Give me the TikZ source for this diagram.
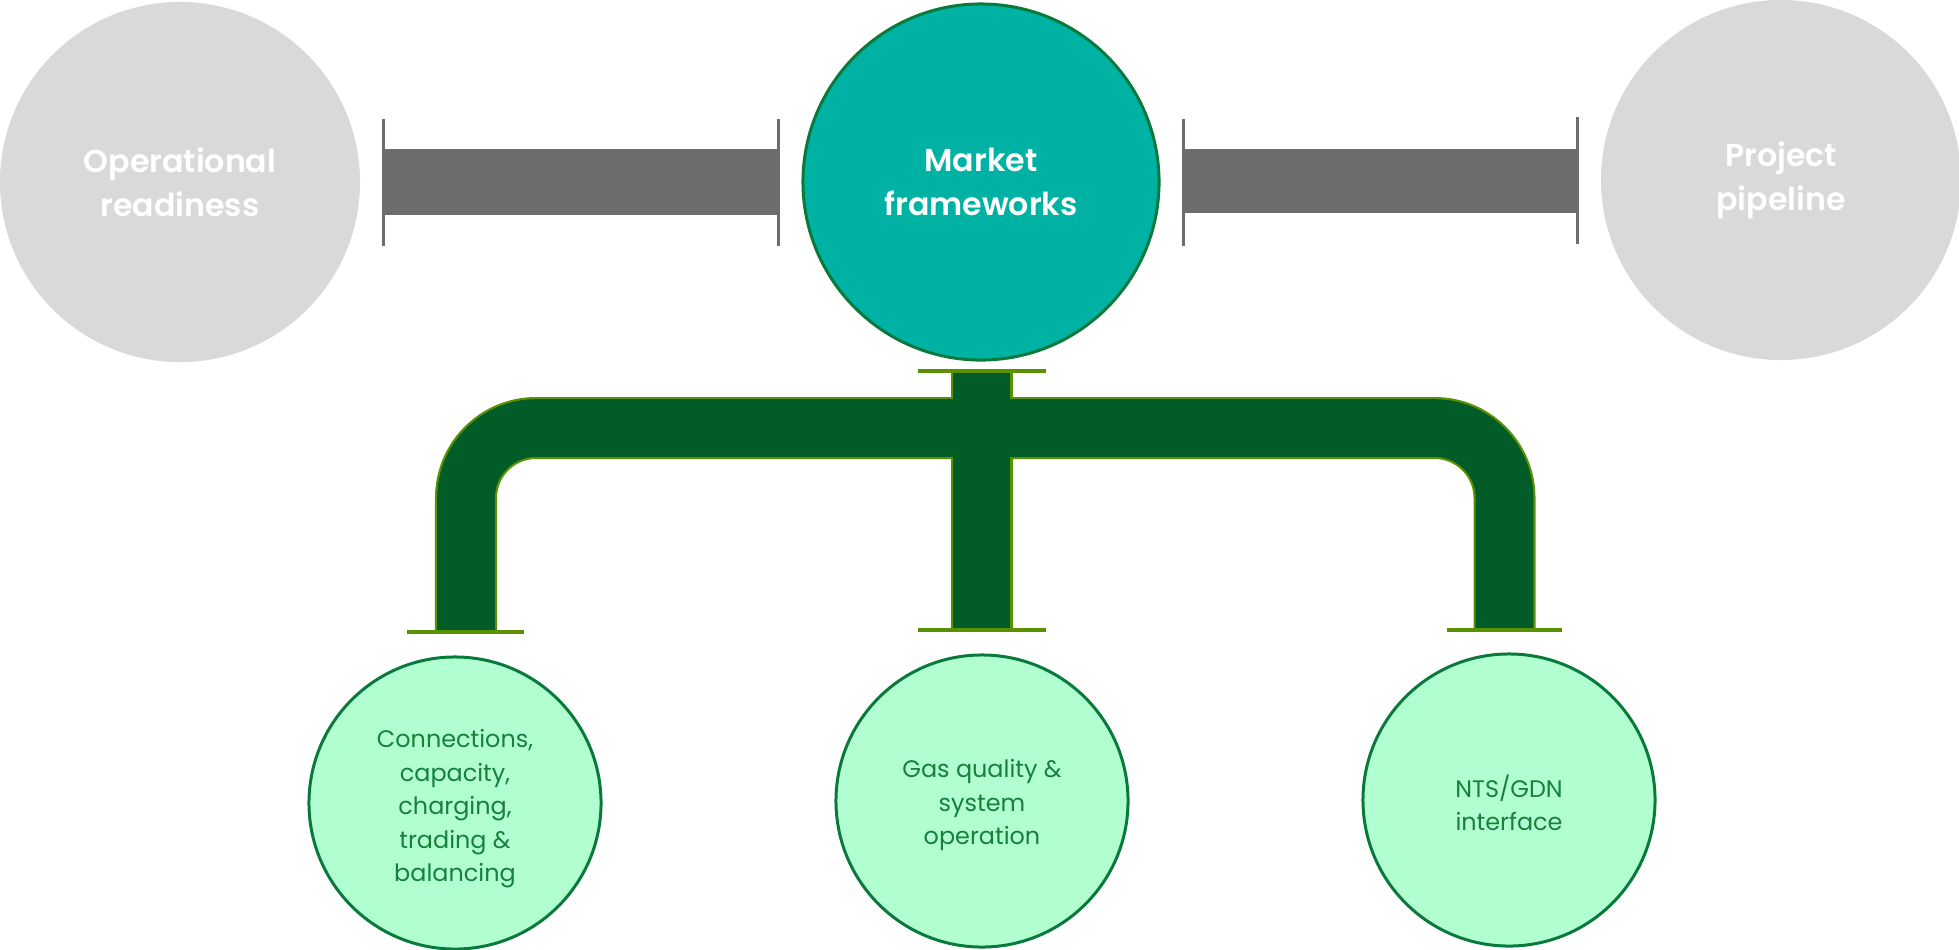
\documentclass[tikz,border=0pt]{standalone}
\usepackage{fontspec}
\setmainfont{Poppins}[BoldFont={Poppins SemiBold}]
\usepackage{tikz}
\usetikzlibrary{calc}
\definecolor{greyfill}{HTML}{D9D9D9}
\definecolor{bargrey}{HTML}{6D6D6D}
\definecolor{tealfill}{HTML}{00B2A3}
\definecolor{darkedge}{HTML}{0A7A3C}
\definecolor{pipegreen}{HTML}{025C27}
\definecolor{pipeolive}{HTML}{5A9100}
\definecolor{mintfill}{HTML}{B1FFD1}
\definecolor{minttext}{HTML}{17803D}

\begin{document}
\begin{tikzpicture}[x=0.025cm,y=-0.025cm,
  topic/.style={circle,fill=greyfill,minimum size=9cm,inner sep=0pt,text=white,
    align=center,font=\fontsize{22.5}{31.5}\selectfont\bfseries},
  maintopic/.style={topic,fill=tealfill,draw=darkedge,line width=0.075cm,minimum size=8.9cm},
  subtopic/.style={circle,fill=mintfill,draw=darkedge,line width=0.075cm,minimum size=7.3cm,
    inner sep=0pt},
  sublabel/.style={text=minttext,align=center,font=\fontsize{17}{23.8}\selectfont},
  bar/.style={fill=bargrey},
  barend/.style={draw=bargrey,line width=0.075cm},
  pipeedge/.style={draw=pipeolive,line width=1.55cm},
  pipebody/.style={draw=pipegreen,line width=1.44cm},
  flange/.style={draw=pipeolive,line width=0.1cm}]
\useasboundingbox (0,0) rectangle (1959,949);

\node[topic] (oper) at (180,182) {Operational\\readiness};
\node[maintopic] (market) at (981,182) {Market\\frameworks};
\node[topic] (proj) at (1781,180) {Project\\pipeline};

\foreach \a/\b in {oper/market,market/proj}{
  \fill[bar] ($(\a.east)+(22,-33)$) rectangle ($(\b.west)+(-22,33)$);
  \draw[barend] ($(\a.east)+(23,-63)$) -- ++(0,127);
  \draw[barend] ($(\b.west)+(-23,-63)$) -- ++(0,127);
}

\foreach \s in {pipeedge,pipebody}{
  \draw[\s,rounded corners=1.75cm] (466,632) -- (466,428) -- (1504.5,428) -- (1504.5,630);
  \draw[\s] (981.5,371) -- (981.5,630);
}
\draw[flange] (918,371) -- (1046,371);
\draw[flange] (918,630) -- (1046,630);
\draw[flange] (407,632) -- (524,632);
\draw[flange] (1447,630) -- (1562,630);

\node[subtopic] (conn) at (455,803) {};
\node[sublabel] (connlabel) at ($(conn)+(0,6)$) {Connections,\\capacity,\\charging,\\trading \&\\balancing};
\node[subtopic] (gas) at (982,801) {};
\node[sublabel] (gaslabel) at ($(gas)+(0,4)$) {Gas quality \&\\system\\operation};
\node[subtopic] (nts) at (1509,800) {};
\node[sublabel] (ntslabel) at ($(nts)+(0,3)$) {NTS/GDN\\ interface};
\end{tikzpicture}
\end{document}
